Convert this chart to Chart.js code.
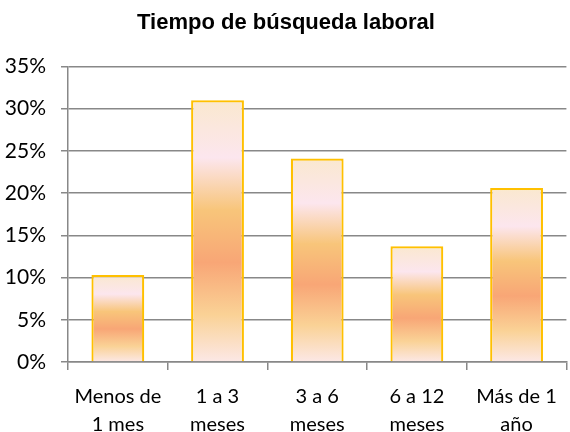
<!DOCTYPE html>
<html><head><meta charset="utf-8">
<script src="https://cdn.jsdelivr.net/npm/chart.js@4/dist/chart.umd.min.js"></script>
<style>html,body{margin:0;padding:0;background:#fff}#w{width:570px;height:432px}</style>
</head><body><div id="w"><canvas id="c"></canvas></div>
<script>
const categories = [["Menos de","1 mes"],["1 a 3","meses"],["3 a 6","meses"],["6 a 12","meses"],["Más de 1","año"]];
const values = [10.3, 31.0, 24.1, 13.7, 20.6];
const yTicks = [0,5,10,15,20,25,30,35];

function barFill(ctx){
  const chart = ctx.chart;
  if(!chart.chartArea || !chart.scales.y) return '#F8B080';
  const y = chart.scales.y;
  const top = y.getPixelForValue(ctx.raw);
  const base = y.getPixelForValue(0);
  if(!isFinite(top) || !isFinite(base) || base-top < 1) return '#F8B080';
  const g = chart.ctx.createLinearGradient(0, top, 0, base);
  g.addColorStop(0, '#FAE8CF');
  g.addColorStop(0.22, '#FCE6EE');
  g.addColorStop(0.42, '#F8C57A');
  g.addColorStop(0.62, '#F8A676');
  g.addColorStop(0.82, '#FAD296');
  g.addColorStop(1, '#FCE8E6');
  return g;
}

new Chart(document.getElementById('c'), {
  type: 'bar',
  data: { labels: categories, datasets: [{ data: values, backgroundColor: barFill, borderColor: '#FFC000', borderWidth: 2.2, barPercentage: 0.53, categoryPercentage: 1 }] },
  options: {
    responsive: true, maintainAspectRatio: false, animation: false,
    layout: { padding: { left: 4, right: 2, top: 6, bottom: 0 } },
    plugins: {
      legend: { display: false }, tooltip: { enabled: false },
      title: { display: true, text: 'Tiempo de búsqueda laboral', color: '#000', font: { family: 'Liberation Sans', size: 22, weight: 'bold' }, padding: { top: 4, bottom: 30 } }
    },
    scales: {
      y: {
        min: 0, max: 35,
        afterBuildTicks: s => { s.ticks = yTicks.map(v => ({ value: v })); },
        afterFit: s => { s.width = 64; },
        ticks: { callback: v => v + '%', color: '#000', font: { family: 'Lato', size: 21 }, padding: 15 },
        grid: { color: '#888', lineWidth: 1.5, tickLength: 7 },
        border: { color: '#888', width: 1.5 }
      },
      x: {
        afterFit: s => { s.height = 70; },
        ticks: { color: '#000', font: { family: 'Lato', size: 20, lineHeight: 1.38 }, padding: 13, maxRotation: 0 },
        grid: { drawOnChartArea: false, color: '#888', lineWidth: 1.5, tickLength: 8, offset: true },
        border: { color: '#888', width: 1.5 }
      }
    }
  }
});
</script></body></html>
